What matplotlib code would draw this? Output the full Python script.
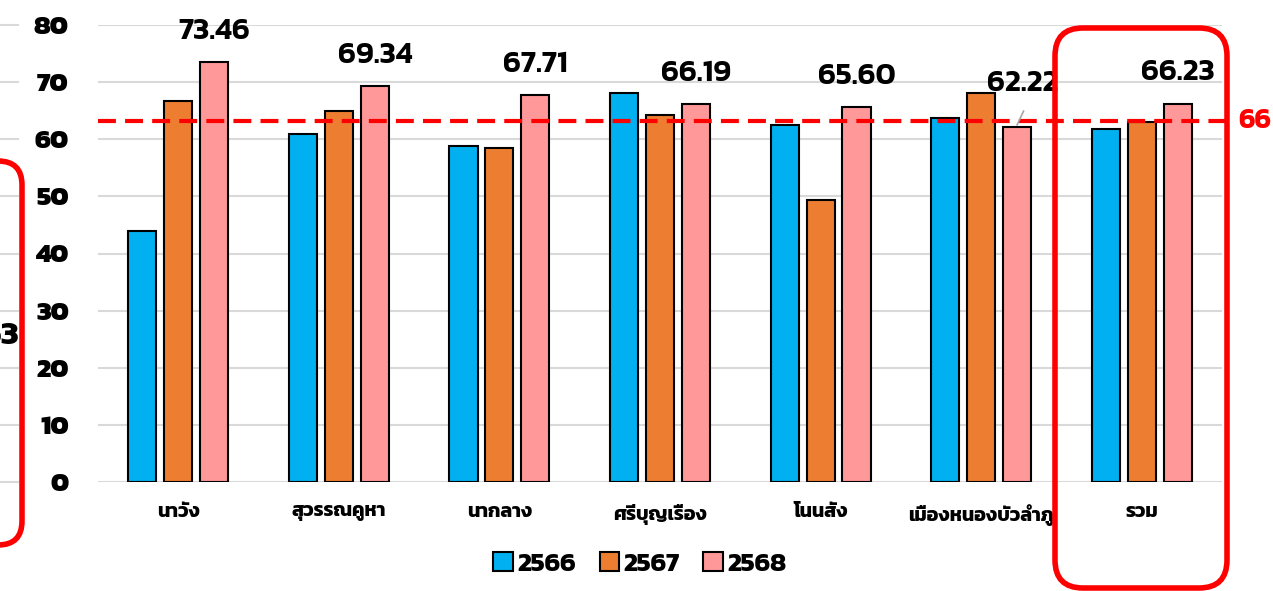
import matplotlib
matplotlib.use("Agg")
import matplotlib.pyplot as plt
from matplotlib.patches import FancyBboxPatch
from matplotlib.lines import Line2D
import numpy as np

plt.rcParams['font.family'] = ['Kanit', 'Prompt', 'Bai Jamjuree', 'DejaVu Sans']

# data
districts = ["นาวัง", "สุวรรณคูหา", "นากลาง", "ศรีบุญเรือง", "โนนสัง",
             "เมืองหนองบัวลำภู", "รวม"]
years = ["2566", "2567", "2568"]
val_2566 = [44.0, 60.9, 58.8, 68.1, 62.5, 63.7, 61.8]
val_2567 = [66.7, 64.9, 58.5, 64.2, 49.4, 68.1, 63.0]
val_2568 = [73.46, 69.34, 67.71, 66.19, 65.60, 62.22, 66.23]
target_line = 63.2
target_label = "66"

colors = ["#00b0f0", "#ed7d31", "#ff9999"]

W, H = 1273, 591
fig = plt.figure(figsize=(W / 100, H / 100), dpi=100)
ax = fig.add_axes([98 / W, (H - 482) / H, (1222 - 98) / W, (482 - 25) / H])

x = np.arange(len(districts))
bw = 0.175
step = 0.224
series = [val_2566, val_2567, val_2568]
for i, vals in enumerate(series):
    ax.bar(x + (i - 1) * step, vals, bw, color=colors[i], edgecolor="black",
           linewidth=1.5, label=years[i], zorder=3)

# value labels on 2568 series
for i, v in enumerate(val_2568):
    xi = x[i] + step
    if i == 5:
        ax.text(xi + 0.037, v + 7.6, f"{v:.2f}", ha="center", va="center",
                fontsize=22, fontweight=600, zorder=5)
        ax.plot([xi, xi + 0.04], [v + 0.3, v + 2.7], color="#a6a6a6", lw=1.2, zorder=5)
    else:
        ax.text(xi, v + 5.4, f"{v:.2f}", ha="center", va="center",
                fontsize=22, fontweight=600, zorder=5)

ax.axhline(target_line, color="red", lw=3, ls=(0, (4.3, 2.2)), zorder=4, clip_on=False,
           xmin=0, xmax=1.005)
fig.text(1238 / W, (H - 121) / H, target_label, color="red", fontsize=20,
         fontweight=700, ha="left", va="center")

ax.set_xlim(-0.5, len(districts) - 0.5)
ax.set_ylim(0, 80)
ax.set_yticks(range(0, 81, 10))
ax.yaxis.grid(True, color="#d9d9d9", lw=1.5, zorder=0)
ax.set_axisbelow(True)
for s in ax.spines.values():
    s.set_visible(False)
ax.tick_params(axis="y", length=0, pad=21, labelsize=19.5)
ax.tick_params(axis="x", length=0, pad=16, labelsize=14)
ax.set_xticks(x)
ax.set_xticklabels(districts, fontweight=700)
for lab in ax.get_yticklabels():
    lab.set_fontweight(800)

leg = ax.legend(loc="center", bbox_to_anchor=(0.482, -0.18), ncol=3,
                frameon=False, fontsize=19, handlelength=0.75, handleheight=0.75,
                handletextpad=0.15, columnspacing=0.9)
for t in leg.get_texts():
    t.set_fontweight(700)

# remnants of neighbouring chart on the left
for v in range(0, 81, 10):
    yp = 482 - v * 5.7125
    fig.add_artist(Line2D([0, 18 / W], [(H - yp) / H] * 2, color="#d9d9d9", lw=1.5))
fig.text(19 / W, (H - 337) / H, "63", fontsize=24, fontweight=700,
         ha="right", va="center")

# red rounded highlight boxes (display pixel coords)
box_r = FancyBboxPatch((1055, H - 588), 172, 560,
                       boxstyle="round,pad=0,rounding_size=28",
                       fill=False, edgecolor="red", lw=4, transform=None)
fig.add_artist(box_r)
box_l = FancyBboxPatch((-60, H - 545), 82, 384,
                       boxstyle="round,pad=0,rounding_size=24",
                       fill=False, edgecolor="red", lw=4, transform=None)
fig.add_artist(box_l)

fig.savefig("out.png", dpi=100)
